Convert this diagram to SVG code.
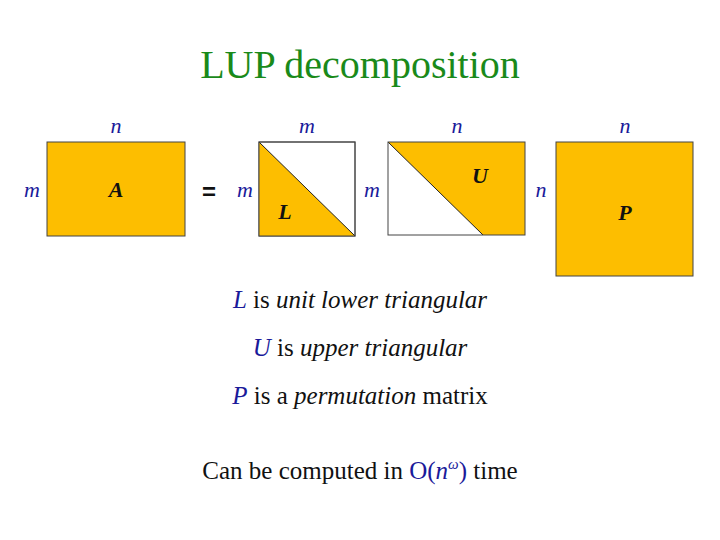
<svg xmlns="http://www.w3.org/2000/svg" width="720" height="540" viewBox="0 0 720 540">
<style>
.t{font-family:"Liberation Serif",serif}
.v{font-family:"Liberation Serif",serif;font-style:italic;fill:#1a1a9a;font-size:22px}
.box{fill:#fdbe00;stroke:#444;stroke-width:1}
.lbl{font-family:"Liberation Serif",serif;font-style:italic;font-weight:bold;font-size:22px;fill:#111}
.b{font-family:"Liberation Serif",serif;font-size:25px;fill:#111}
.bi{font-style:italic}
.bl{fill:#1a1a9a}
</style>
<rect width="720" height="540" fill="#fff"/>
<text class="t" x="360" y="78" text-anchor="middle" font-size="40" fill="#1a8a1a">LUP decomposition</text>
<g id="A">
<rect class="box" x="47" y="142" width="138" height="94"/>
<text class="lbl" x="116" y="197" text-anchor="middle">A</text>
<text class="v" x="116" y="133" text-anchor="middle">n</text>
<text class="v" x="32" y="197" text-anchor="middle">m</text>
</g>
<g id="eq"><text x="209" y="200" text-anchor="middle" font-family="Liberation Sans,sans-serif" font-weight="bold" font-size="24" fill="#111">=</text></g>
<g id="L">
<rect x="259" y="142" width="96" height="94" fill="#fff" stroke="#444"/>
<polygon points="259,142 355,236 259,236" fill="#fdbe00"/>
<line x1="259" y1="142" x2="355" y2="236" stroke="#222"/>
<rect x="259" y="142" width="96" height="94" fill="none" stroke="#444"/>
<text class="lbl" x="285" y="219" text-anchor="middle">L</text>
<text class="v" x="307" y="133" text-anchor="middle">m</text>
<text class="v" x="245" y="197" text-anchor="middle">m</text>
</g>
<g id="U">
<polygon points="388,142 525,142 525,235 483,235" fill="#fdbe00"/>
<line x1="388" y1="142" x2="483" y2="235" stroke="#222"/>
<rect x="388" y="142" width="137" height="93" fill="none" stroke="#444"/>
<text class="lbl" x="480" y="183" text-anchor="middle">U</text>
<text class="v" x="457" y="133" text-anchor="middle">n</text>
<text class="v" x="372" y="197" text-anchor="middle">m</text>
</g>
<g id="P">
<rect class="box" x="556" y="142" width="137" height="134"/>
<text class="lbl" x="625" y="220" text-anchor="middle">P</text>
<text class="v" x="625" y="133" text-anchor="middle">n</text>
<text class="v" x="541" y="197" text-anchor="middle">n</text>
</g>
<g id="text">
<text class="b" x="360" y="308" text-anchor="middle"><tspan class="bi bl">L</tspan> is <tspan class="bi">unit lower triangular</tspan></text>
<text class="b" x="360" y="356" text-anchor="middle"><tspan class="bi bl">U</tspan> is <tspan class="bi">upper triangular</tspan></text>
<text class="b" x="360" y="404" text-anchor="middle"><tspan class="bi bl">P</tspan> is a <tspan class="bi">permutation</tspan> matrix</text>
<text class="b" x="360" y="479" text-anchor="middle">Can be computed in <tspan class="bl">O(<tspan class="bi">n</tspan><tspan class="bi" font-size="15" dy="-10">ω</tspan><tspan dy="10">)</tspan></tspan> time</text>
</g>
</svg>
